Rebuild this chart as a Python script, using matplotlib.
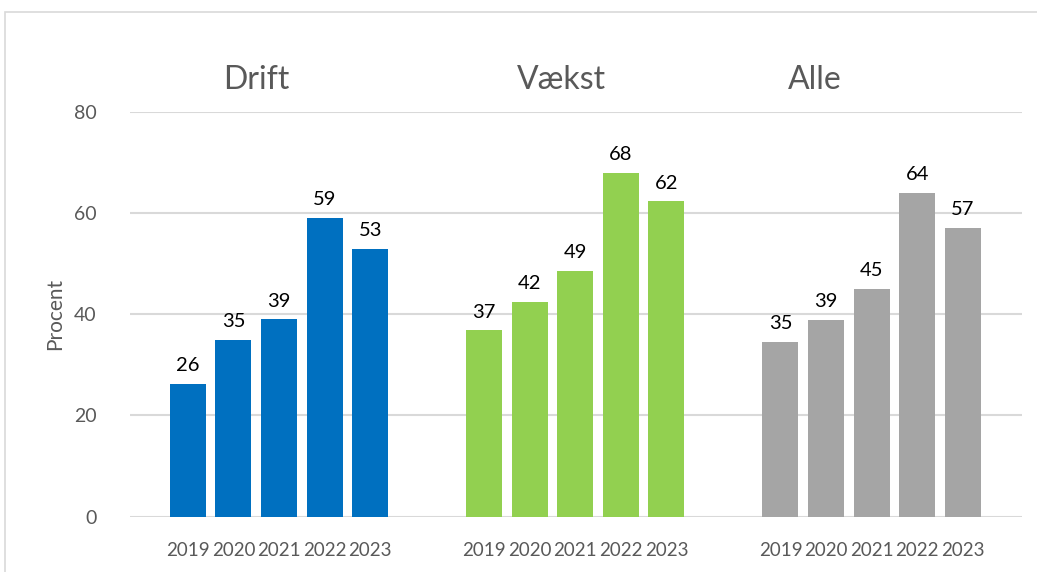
#Grouped bar chart: share in procent per group and year
import numpy as np	#handling arrays
import matplotlib
matplotlib.use('Agg')
import matplotlib.pyplot as plt	#to plot
from matplotlib.patches import Rectangle

###################################################################
#data
groups = ['Drift', 'Vækst', 'Alle']
years = ['2019', '2020', '2021', '2022', '2023']
drift = [26.2, 34.9, 39.0, 59.0, 52.9]
vaekst = [36.8, 42.4, 48.5, 67.9, 62.3]
alle = [34.6, 38.9, 45.0, 63.9, 57.0]
labels = [[26, 35, 39, 59, 53], [37, 42, 49, 68, 62], [35, 39, 45, 64, 57]]

#colors
colors = ['#0070C0', '#92D050', '#A5A5A5']
grey_txt = '#595959'

plt.rcParams['font.family'] = ['Lato', 'DejaVu Sans']

####################################################
fig = plt.figure(figsize=(10.37, 5.72), dpi=100)
ax = fig.add_axes([130/1037, 1-516.7/572, (1022-130)/1037, (516.7-111.7)/572])

#outer frame (cut at right and bottom)
fig.patches.append(Rectangle((5/1037, -0.1), 1.2, 1.1-12/572, transform=fig.transFigure,
                             fill=False, edgecolor='#D9D9D9', linewidth=1.2))

step = 6.5	#distance between groups in bar slots
title_dx = [1.5, 1.7, 0.76]
ticks, ticklab = [], []
for g, vals in enumerate([drift, vaekst, alle]):
    x = np.arange(len(vals)) + g*step
    ax.bar(x, vals, width=0.79, color=colors[g], zorder=2)
    for xi, v, lab in zip(x, vals, labels[g]):
        ax.annotate(str(lab), (xi, v), xytext=(0, 7), textcoords='offset points',
                    ha='center', va='bottom', fontsize=14.5, color='black')
    ax.text(g*step + title_dx[g], 86.3, groups[g], ha='center', va='center',
            fontsize=23, color=grey_txt)
    ticks += list(x)
    ticklab += years

ax.set_xticks(ticks)
ax.set_xticklabels(ticklab, fontsize=13.5, color=grey_txt)
ax.set_xlim(-1.27, 18.3)
ax.set_ylim(0, 80)
ax.set_yticks([0, 20, 40, 60, 80])
ax.tick_params(axis='y', labelsize=14, colors=grey_txt, length=0, pad=24)
ax.tick_params(axis='x', length=0, pad=18)
ax.grid(True, axis='y', color='#D9D9D9', linewidth=1.5, zorder=0)
ax.set_axisbelow(True)
for s in ax.spines.values():
    s.set_visible(False)
ax.set_ylabel('Procent', fontsize=15, color=grey_txt, labelpad=6)

fig.savefig('out.png', dpi=100)
